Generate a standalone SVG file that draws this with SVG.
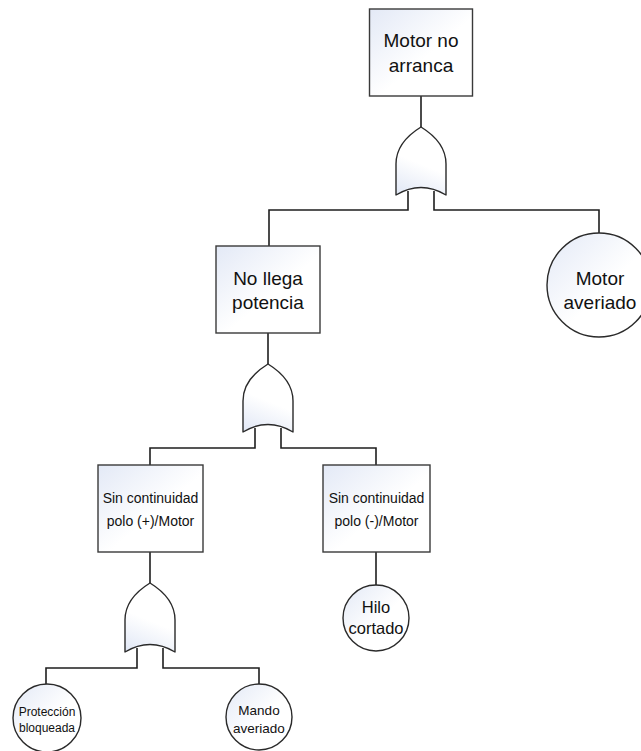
<svg xmlns="http://www.w3.org/2000/svg" width="641" height="751" viewBox="0 0 641 751">
  <style>
    .box { fill: url(#boxFill); stroke: #3a3a3a; stroke-width: 1.4; }
    .evt { fill: url(#boxFill); stroke: #2a2a2a; stroke-width: 1.4; }
    .gate { fill: url(#gateFill); stroke: #2a2a2a; stroke-width: 1.4; stroke-linejoin: round; }
    .wire { fill: none; stroke: #1e1e1e; stroke-width: 1.6; }
    text { font-family: "Liberation Sans", Arial, sans-serif; fill: #111; text-anchor: middle; }
    .big { font-size: 19px; }
    .mid { font-size: 14px; }
    .sm { font-size: 12px; }
    .hc { font-size: 16.5px; }
    .ma { font-size: 13.5px; }
  </style>
  <defs>
    <linearGradient id="boxFill" x1="0" y1="0" x2="1" y2="1">
      <stop offset="0" stop-color="#e3e9f6"/>
      <stop offset="0.55" stop-color="#ffffff"/>
      <stop offset="1" stop-color="#ffffff"/>
    </linearGradient>
    <linearGradient id="gateFill" x1="0.5" y1="0" x2="0.2" y2="1">
      <stop offset="0" stop-color="#ffffff"/>
      <stop offset="0.5" stop-color="#ffffff"/>
      <stop offset="1" stop-color="#e3e9f6"/>
    </linearGradient>
  </defs>

  <!-- connectors -->
  <g id="connectors">
    <path class="wire" d="M421 96 V127"/>
    <path class="wire" d="M408 191 V210 H269 V246"/>
    <path class="wire" d="M434 191 V210 H599 V233"/>
    <path class="wire" d="M268 333 V364"/>
    <path class="wire" d="M255 428 V448 H150 V465"/>
    <path class="wire" d="M281 428 V448 H376 V465"/>
    <path class="wire" d="M150 552 V583"/>
    <path class="wire" d="M137 648 V668 H46 V684"/>
    <path class="wire" d="M163 648 V668 H259 V684"/>
    <path class="wire" d="M376 552 V585"/>
  </g>

  <!-- OR gates -->
  <g id="gate-top">
    <path class="gate" d="M421 127 C434 135 446 146 446 164 V195 Q421 180 396 195 V164 C396 146 408 135 421 127 Z"/>
  </g>
  <g id="gate-potencia">
    <path class="gate" d="M268 364 C281 372 293 383 293 401 V432 Q268 417 243 432 V401 C243 383 255 372 268 364 Z"/>
  </g>
  <g id="gate-polo-pos">
    <path class="gate" d="M150 583 C163 591 175 602 175 620 V652 Q150 637 125 652 V620 C125 602 137 591 150 583 Z"/>
  </g>

  <!-- events -->
  <g id="motor-no-arranca">
    <rect class="box" x="369.5" y="9" width="103" height="87"/>
    <text class="big" x="421" y="47">Motor no</text>
    <text class="big" x="421" y="72">arranca</text>
  </g>
  <g id="no-llega-potencia">
    <rect class="box" x="216" y="246" width="104" height="87"/>
    <text class="big" x="268" y="285">No llega</text>
    <text class="big" x="268" y="309">potencia</text>
  </g>
  <g id="motor-averiado">
    <circle class="evt" cx="599" cy="285" r="52"/>
    <text class="big" x="600" y="285">Motor</text>
    <text class="big" x="600" y="309">averiado</text>
  </g>
  <g id="sin-continuidad-pos">
    <rect class="box" x="98" y="465" width="105" height="87"/>
    <text class="mid" x="150.5" y="503">Sin continuidad</text>
    <text class="mid" x="150.5" y="526">polo (+)/Motor</text>
  </g>
  <g id="sin-continuidad-neg">
    <rect class="box" x="323" y="465" width="107" height="87"/>
    <text class="mid" x="376.5" y="503">Sin continuidad</text>
    <text class="mid" x="376.5" y="526">polo (-)/Motor</text>
  </g>
  <g id="hilo-cortado">
    <circle class="evt" cx="376" cy="618" r="33"/>
    <text class="hc" x="376" y="613">Hilo</text>
    <text class="hc" x="376" y="634">cortado</text>
  </g>
  <g id="proteccion-bloqueada">
    <circle class="evt" cx="47" cy="718" r="34"/>
    <text class="sm" x="47" y="716">Protección</text>
    <text class="sm" x="47" y="732">bloqueada</text>
  </g>
  <g id="mando-averiado">
    <circle class="evt" cx="259" cy="717" r="33"/>
    <text class="ma" x="259" y="715">Mando</text>
    <text class="ma" x="259" y="733">averiado</text>
  </g>
</svg>
